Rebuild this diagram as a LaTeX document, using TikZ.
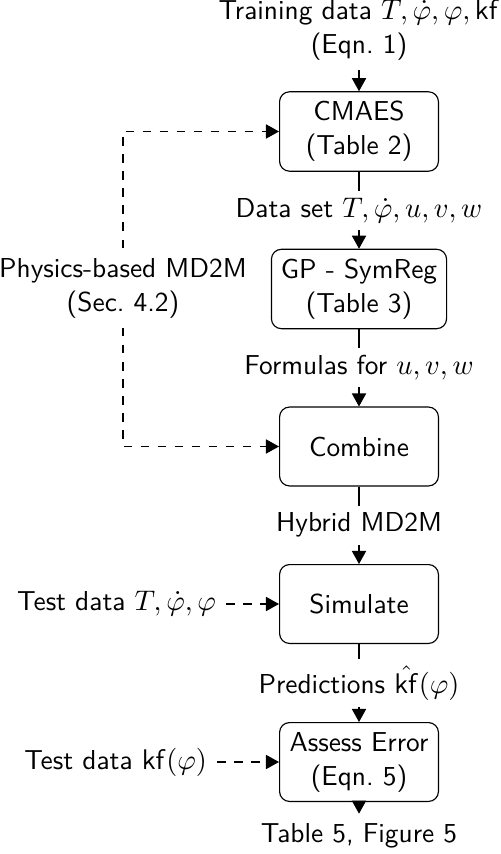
\documentclass[tikz,border=0pt]{standalone}
\usetikzlibrary{arrows.meta}
\begin{document}
\begin{tikzpicture}[x=0.3525pt,y=-0.3525pt,
  every node/.style={font=\sffamily\fontsize{9.65}{12}\selectfont},
  procbox/.style={draw, rounded corners=3.5pt, minimum width=56pt, minimum height=27.8pt, align=center},
  lbl/.style={fill=white, align=center, inner sep=2.5pt},
  arr/.style={-{Triangle[width=5pt,length=4.6pt]}},
  darr/.style={dashed,-{Triangle[width=5pt,length=4.6pt]}}]
\useasboundingbox (0,0) rectangle (500,854);
\node[align=center] (train) at (359,30) {Training data $T,\dot{\varphi},\varphi,\mathsf{kf}$\\(Eqn.~1)};
\node[procbox] (cmaes) at (359,131.5) {CMAES\\(Table 2)};
\node[procbox] (gp) at (359,289) {GP - SymReg\\(Table 3)};
\node[procbox] (comb) at (359,446.5) {Combine};
\node[procbox] (sim) at (359,604) {Simulate};
\node[procbox] (assess) at (359,762) {Assess Error\\(Eqn.~5)};
\node (out) at (359,836) {Table 5, Figure 5};
\node[align=center] (phys) at (123,288) {Physics-based MD2M\\(Sec.~4.2)};
\node[anchor=east] (testa) at (226,604) {Test data $T,\dot{\varphi},\varphi$};
\node[anchor=east] (testb) at (217,762) {Test data $\mathsf{kf}(\varphi)$};
\draw[arr] (train) -- (cmaes);
\draw[arr] (cmaes) -- node[lbl] {Data set $T,\dot{\varphi},u,v,w$} (gp);
\draw[arr] (gp) -- node[lbl] {Formulas for $u,v,w$} (comb);
\draw[arr] (comb) -- node[lbl] {Hybrid MD2M} (sim);
\draw[arr] (sim) -- node[lbl] {Predictions $\hat{\mathsf{kf}}(\varphi)$} (assess);
\draw[arr] (assess) -- (out);
\draw[darr] (phys) |- (cmaes);
\draw[darr] (phys) |- (comb);
\draw[darr] (testa) -- (sim);
\draw[darr] (testb) -- (assess);
\end{tikzpicture}
\end{document}
